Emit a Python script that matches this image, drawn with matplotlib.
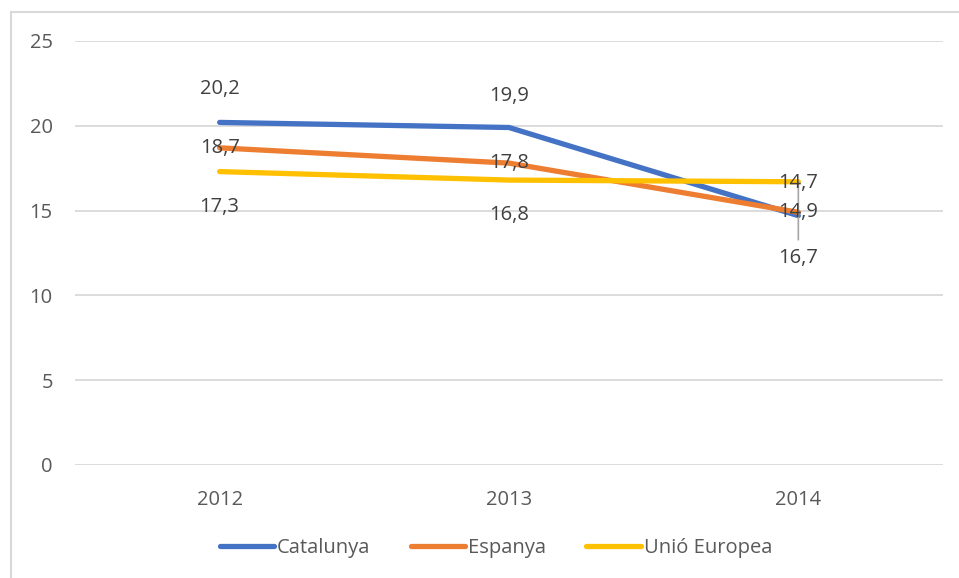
import matplotlib

matplotlib.use("Agg")
import matplotlib.pyplot as plt
from matplotlib.lines import Line2D

years = ["2012", "2013", "2014"]
catalunya = [20.2, 19.9, 14.7]
espanya = [18.7, 17.8, 14.9]
unio_europea = [17.3, 16.8, 16.7]

series = [
    ("Catalunya", catalunya, "#4472C4"),
    ("Espanya", espanya, "#ED7D31"),
    ("Unió Europea", unio_europea, "#FFC000"),
]

# desplaçament vertical de les etiquetes (px): a sobre, centrada, a sota
label_offsets = {
    "Catalunya": [33, 31, 33],
    "Espanya": [0, 0, 0],
    "Unió Europea": [-35, -35, -76],
}

plt.rcParams["font.family"] = ["Open Sans", "DejaVu Sans"]
text_color = "#404040"
tick_color = "#595959"
fs = 14.5

fig = plt.figure(figsize=(9.59, 5.78), dpi=100)
ax = fig.add_axes([75 / 959, 1 - 465 / 578, 868 / 959, 424 / 578])

x = list(range(len(years)))
for name, vals, color in series:
    ax.plot(x, vals, color=color, lw=3.8, solid_capstyle="round", zorder=3)

for name, vals, color in series:
    for i, v in enumerate(vals):
        dy = label_offsets[name][i]
        ax.annotate(f"{v:.1f}".replace(".", ","), (i, v),
                    xytext=(0, dy * 0.72), textcoords="offset points",
                    ha="center", va="center", fontsize=fs, color=text_color,
                    zorder=5)

# línia guia de l'etiqueta desplaçada (UE 2014)
i = len(years) - 1
ax.annotate("", xy=(i, unio_europea[i]), xytext=(0, (label_offsets["Unió Europea"][i] + 18) * 0.72),
            textcoords="offset points",
            arrowprops=dict(arrowstyle="-", color="#A6A6A6", lw=1.2, shrinkA=0, shrinkB=0),
            zorder=4)

ax.set_xlim(-0.5, len(years) - 0.5)
ax.set_ylim(0, 25)
ax.set_yticks([0, 5, 10, 15, 20, 25])
ax.set_xticks(x)
ax.set_xticklabels(years)
ax.yaxis.grid(True, color="#D9D9D9", lw=1.3)
ax.set_axisbelow(True)
for s in ax.spines.values():
    s.set_visible(False)
ax.tick_params(axis="both", length=0, labelsize=fs, colors=tick_color)
ax.tick_params(axis="y", pad=16)
ax.tick_params(axis="x", pad=18)

handles = [Line2D([], [], color=c, lw=3.8, solid_capstyle="round") for _, _, c in series]
fig.legend(handles, [n for n, _, _ in series], loc="center",
           bbox_to_anchor=(496 / 959, 1 - 548 / 578), ncol=3, frameon=False,
           fontsize=fs, labelcolor=tick_color, handlelength=2.7,
           handletextpad=0.15, columnspacing=2.0)

# vora del gràfic (només superior i esquerra visibles)
fig.add_artist(Line2D([11 / 959, 11 / 959], [0, 1 - 12 / 578], color="#D9D9D9", lw=1.5))
fig.add_artist(Line2D([11 / 959, 1], [1 - 12 / 578, 1 - 12 / 578], color="#D9D9D9", lw=1.5))

fig.savefig("out.png", dpi=100)
